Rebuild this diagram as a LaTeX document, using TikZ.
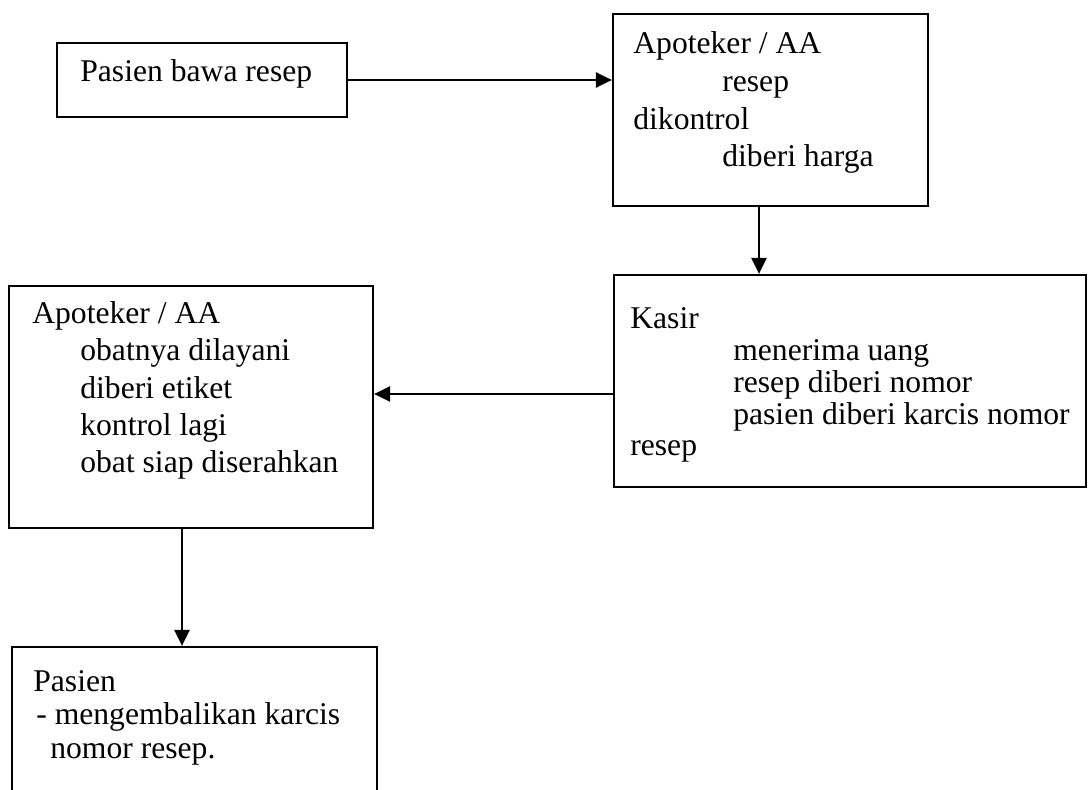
\documentclass[tikz,border=0pt]{standalone}
\usepackage{fontspec}
\setmainfont{Liberation Serif}
\usetikzlibrary{arrows.meta}

\tikzset{
  box/.style={draw, line width=1.3pt, inner sep=0pt},
  txt/.style={anchor=base west, align=left, inner sep=0pt},
  flow/.style={-{Triangle[length=0.32cm,width=0.3cm]}, line width=1.3pt},
}

\begin{document}
\begin{tikzpicture}[x=0.02cm, y=-0.02cm]

  \useasboundingbox (0,0) rectangle (1089,790);
  \clip (0,0) rectangle (1089,790);

  % Boxes
  \node[box, minimum width=5.8cm, minimum height=1.48cm] (bawa) at (202,80) {};
  \node[box, minimum width=6.3cm, minimum height=3.84cm] (kontrol) at (770.5,110) {};
  \node[box, minimum width=9.44cm, minimum height=4.24cm] (kasir) at (850,381) {};
  \node[box, minimum width=7.28cm, minimum height=4.84cm] (layani) at (191,407) {};
  \node[box, minimum width=7.3cm, minimum height=3.26cm] (kembali) at (194.5,728.5) {};

  % Texts (placed at the baseline of their last line)
  \node[txt, font=\fontsize{18}{21.6}\selectfont] (tbawa) at (80,82) {Pasien bawa resep};
  \node[txt, font=\fontsize{18}{21.6}\selectfont] (tkontrol) at (633,167)
    {Apoteker / AA\\ \hspace*{1.78cm}resep\\ dikontrol\\ \hspace*{1.78cm}diberi harga};
  \node[txt, font=\fontsize{18}{18.2}\selectfont] (tkasir) at (630,456)
    {Kasir\\ \hspace*{2.06cm}menerima uang\\ \hspace*{2.06cm}resep diberi nomor\\
     \hspace*{2.06cm}pasien diberi karcis nomor\\ resep};
  \node[txt, font=\fontsize{18}{21.3}\selectfont] (tlayani) at (32,473)
    {Apoteker / AA\\ \hspace*{0.96cm}obatnya dilayani\\ \hspace*{0.96cm}diberi etiket\\
     \hspace*{0.96cm}kontrol lagi\\ \hspace*{0.96cm}obat siap diserahkan};
  \node[txt, font=\fontsize{18}{18.8}\selectfont] (tkembali) at (33,758)
    {Pasien\\ \hspace*{0.06cm}- mengembalikan karcis\\ \hspace*{0.34cm}nomor resep.};

  % Arrows
  \coordinate (k) at (759,0);
  \coordinate (m) at (0,394);
  \coordinate (n) at (182,0);
  \draw[flow] (bawa.east) -- (bawa.east -| kontrol.west);
  \draw[flow] (kontrol.south -| k) -- (kasir.north -| k);
  \draw[flow] (kasir.west |- m) -- (layani.east |- m);
  \draw[flow] (layani.south -| n) -- (kembali.north -| n);

\end{tikzpicture}
\end{document}
